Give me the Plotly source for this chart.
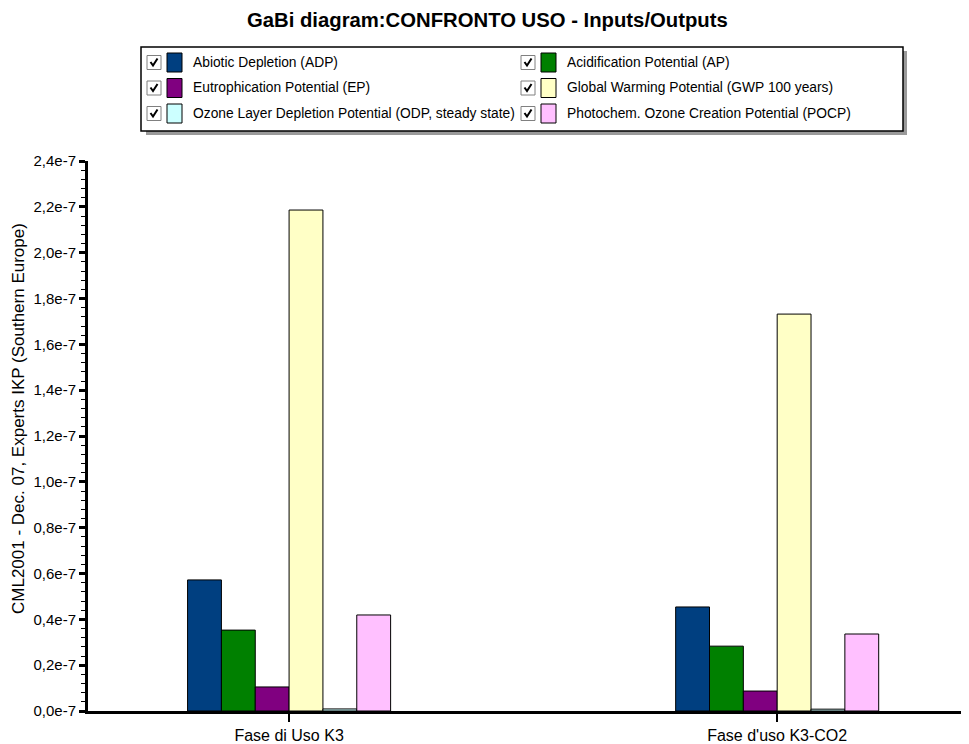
import plotly.graph_objects as go

# ---- data ----
categories = ["Fase di Uso K3", "Fase d'uso K3-CO2"]
series_names = [
    "Abiotic Depletion (ADP)",
    "Acidification Potential (AP)",
    "Eutrophication Potential (EP)",
    "Global Warming Potential (GWP 100 years)",
    "Ozone Layer Depletion Potential (ODP, steady state)",
    "Photochem. Ozone Creation Potential (POCP)",
]
adp = [5.72e-8, 4.54e-8]
ap = [3.53e-8, 2.83e-8]
ep = [1.05e-8, 0.87e-8]
gwp = [2.186e-7, 1.732e-7]
odp = [0.09e-8, 0.08e-8]
pocp = [4.19e-8, 3.36e-8]
series_values = [adp, ap, ep, gwp, odp, pocp]
colors = ["#003f80", "#008000", "#800080", "#ffffc6", "#ccffff", "#ffc0ff"]

y_tickvals = [0, 0.2e-7, 0.4e-7, 0.6e-7, 0.8e-7, 1.0e-7, 1.2e-7, 1.4e-7,
              1.6e-7, 1.8e-7, 2.0e-7, 2.2e-7, 2.4e-7]
y_ticktext = ["0,0e-7", "0,2e-7", "0,4e-7", "0,6e-7", "0,8e-7", "1,0e-7", "1,2e-7",
              "1,4e-7", "1,6e-7", "1,8e-7", "2,0e-7", "2,2e-7", "2,4e-7"]

# page offset (body margin) compensation
OFF = 8
W, H = 969 - OFF, 744 - OFF
# plot area in reference pixels: left 88, right 969, top 161, bottom 711
L, R, T, B = 88 - OFF, 0, 161 - OFF, 744 - 711
PW = W - L - R
PH = H - T - B

def pxx(x):
    return (x - OFF - L) / PW

def pyy(y):
    return (711 - y) / PH

FONT = "Liberation Sans, Arial, sans-serif"

fig = go.Figure()
for name, vals, col in zip(series_names, series_values, colors):
    fig.add_trace(go.Bar(
        x=categories, y=vals, name=name,
        marker=dict(color=col, line=dict(color="#000000", width=1)),
        showlegend=False,
    ))

shapes = []
annotations = []

# legend box with shadow
shapes.append(dict(type="rect", xref="paper", yref="paper",
                   x0=pxx(146), x1=pxx(907), y0=pyy(51), y1=pyy(135),
                   fillcolor="#9a9a9a", line=dict(width=0), layer="above"))
shapes.append(dict(type="rect", xref="paper", yref="paper",
                   x0=pxx(141), x1=pxx(903), y0=pyy(47), y1=pyy(131),
                   fillcolor="#ffffff", line=dict(color="#000000", width=1.5), layer="above"))

rows_y = [62.5, 88, 113.5]
cols_x = [147, 521]
for i, (name, col) in enumerate(zip(series_names, colors)):
    r = i // 2
    c = i % 2
    cy = rows_y[r]
    cx = cols_x[c]
    # checkbox
    shapes.append(dict(type="rect", xref="paper", yref="paper",
                       x0=pxx(cx), x1=pxx(cx + 14), y0=pyy(cy - 7), y1=pyy(cy + 7),
                       fillcolor="#ffffff", line=dict(color="#808080", width=1), layer="above"))
    p = "M {:.5f},{:.5f} L {:.5f},{:.5f} L {:.5f},{:.5f}".format(
        pxx(cx + 3.5), pyy(cy - 0.5), pxx(cx + 6), pyy(cy + 3), pxx(cx + 10.5), pyy(cy - 4))
    shapes.append(dict(type="path", xref="paper", yref="paper", path=p,
                       line=dict(color="#000000", width=2), layer="above"))
    # color swatch
    shapes.append(dict(type="rect", xref="paper", yref="paper",
                       x0=pxx(cx + 20), x1=pxx(cx + 35), y0=pyy(cy - 9.5), y1=pyy(cy + 9.5),
                       fillcolor=col, line=dict(color="#000000", width=1), layer="above"))
    annotations.append(dict(xref="paper", yref="paper", x=pxx(cx + 44), y=pyy(cy),
                            text=name, showarrow=False, xanchor="left", yanchor="middle",
                            font=dict(family=FONT, size=13.8, color="#000000")))

# y-axis title
annotations.append(dict(xref="paper", yref="paper", x=pxx(18), y=pyy(419),
                        text="CML2001 - Dec. 07, Experts IKP (Southern Europe)",
                        textangle=-90, showarrow=False, xanchor="center", yanchor="middle",
                        font=dict(family=FONT, size=17, color="#000000")))

# title
annotations.append(dict(xref="paper", yref="paper", x=pxx(487), y=pyy(20),
                        text="<b>GaBi diagram:CONFRONTO USO - Inputs/Outputs</b>",
                        showarrow=False, xanchor="center", yanchor="middle",
                        font=dict(family=FONT, size=20.3, color="#000000")))

fig.update_layout(
    width=W, height=H,
    margin=dict(l=L, r=R, t=T, b=B, autoexpand=False),
    paper_bgcolor="#ffffff", plot_bgcolor="#ffffff",
    barmode="group", bargap=0.584, bargroupgap=0,
    shapes=shapes, annotations=annotations,
    showlegend=False,
    xaxis=dict(
        type="category", range=[-0.412, 1.393],
        showline=True, linecolor="#000000", linewidth=3,
        ticks="outside", ticklen=8, tickwidth=2, tickcolor="#000000",
        showgrid=False, zeroline=False,
        tickfont=dict(family=FONT, size=16, color="#000000"),
    ),
    yaxis=dict(
        range=[0, 2.4e-7],
        tickmode="array", tickvals=y_tickvals, ticktext=y_ticktext,
        showline=True, linecolor="#000000", linewidth=3,
        ticks="outside", ticklen=6, tickwidth=3, tickcolor="#000000",
        showgrid=False, zeroline=False,
        tickfont=dict(family=FONT, size=15, color="#000000"),
        minor=dict(dtick=0.04e-7, tick0=0, ticks="outside", ticklen=4, tickwidth=1,
                   tickcolor="#000000", showgrid=False),
    ),
)

fig.write_html("out.html")
